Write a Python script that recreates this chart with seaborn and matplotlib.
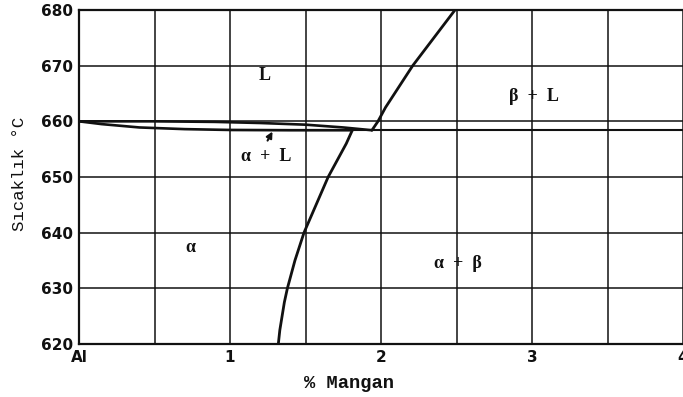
import matplotlib
matplotlib.use("Agg")
import matplotlib.pyplot as plt
import seaborn as sns
import pandas as pd

# Al-Mn phase diagram, aluminium-rich corner
# liquidus of the alpha (Al) side, Al melting point down to the eutectic
liq_alpha_mn = [0.0, 0.5, 0.9, 1.2, 1.5, 1.75, 1.94]
liq_alpha_t = [660.0, 660.0, 659.9, 659.7, 659.4, 658.9, 658.4]

# solidus of alpha
sol_alpha_mn = [0.0, 0.15, 0.4, 0.7, 1.0, 1.4, 1.81]
sol_alpha_t = [660.0, 659.5, 658.9, 658.6, 658.45, 658.4, 658.4]

# solvus alpha / alpha + beta
solvus_mn = [1.81, 1.77, 1.72, 1.65, 1.61, 1.57, 1.53, 1.49, 1.46, 1.43,
             1.405, 1.38, 1.36, 1.345, 1.33, 1.32]
solvus_t = [658.4, 656.0, 653.5, 650.0, 647.5, 645.0, 642.5, 640.0, 637.5,
            635.0, 632.5, 630.0, 627.5, 625.0, 622.5, 620.0]

# liquidus of beta
liq_beta_mn = [1.94, 1.98, 2.03, 2.09, 2.15, 2.21, 2.28, 2.35, 2.42, 2.49]
liq_beta_t = [658.4, 660.0, 662.5, 665.0, 667.5, 670.0, 672.5, 675.0, 677.5, 680.0]

# eutectic horizontal
eut_mn = [1.0, 4.0]
eut_t = [658.4, 658.4]

x_ticks = [0, 1, 2, 3, 4]
x_tick_labels = ["Al", "1", "2", "3", "4"]
y_ticks = [620, 630, 640, 650, 660, 670, 680]

region_labels = ["L", "β  +  L", "α  +  L", "α", "α  +  β"]
region_mn = [1.23, 3.01, 1.24, 0.735, 2.51]
region_t = [668.3, 664.4, 653.6, 637.4, 634.4]

sns.set_style("white")
plt.rcParams["font.family"] = ["DejaVu Sans"]

fig = plt.figure(figsize=(6.83, 3.97), dpi=100)
ax = fig.add_axes([79 / 683, 1 - 344 / 397, 1 - 79 / 683, 334 / 397])

ink = "#111111"

# grid every 0.5 % Mn and every 10 degrees
for gx in [0.5 * i for i in range(1, 9)]:
    ax.axvline(gx, color=ink, lw=1.1, zorder=1)
for gy in y_ticks:
    ax.axhline(gy, color=ink, lw=1.1, zorder=1)

curves = [
    (liq_alpha_mn, liq_alpha_t, 1.9),
    (sol_alpha_mn, sol_alpha_t, 1.9),
    (solvus_mn, solvus_t, 2.0),
    (liq_beta_mn, liq_beta_t, 2.0),
    (eut_mn, eut_t, 1.5),
]
for xs, ts, lw in curves:
    df = pd.DataFrame({"mn": xs, "t": ts})
    sns.lineplot(data=df, x="mn", y="t", sort=False, estimator=None,
                 color=ink, lw=lw, ax=ax, zorder=3)

for lab, xm, tm in zip(region_labels, region_mn, region_t):
    ax.text(xm, tm, lab, ha="center", va="center", fontsize=13,
            fontweight="bold", family="Liberation Serif", color=ink)

ax.annotate("", xy=(1.29, 658.6), xytext=(1.24, 656.1),
            arrowprops=dict(arrowstyle="-|>", color=ink, lw=1.5,
                            mutation_scale=9))

ax.set_xlim(0, 4)
ax.set_ylim(620, 680)
ax.set_xticks(x_ticks)
ax.set_xticklabels(x_tick_labels)
ax.set_yticks(y_ticks)
ax.tick_params(axis="both", length=0, pad=4, labelsize=11, colors=ink)
for t in ax.get_xticklabels() + ax.get_yticklabels():
    t.set_fontweight("bold")

for side in ["left", "bottom", "top"]:
    ax.spines[side].set_linewidth(1.6)
    ax.spines[side].set_color(ink)
ax.spines["right"].set_visible(False)

ax.set_xlabel("% Mangan", family="Liberation Mono", fontsize=13.5,
              fontweight="bold", color=ink)
ax.xaxis.set_label_coords(0.447, -0.117)
ax.xaxis.label.set_va("center")
ax.set_ylabel("Sıcaklık °C", family="Liberation Mono", fontsize=12.5,
              color=ink)
ax.yaxis.set_label_coords(-0.098, 0.51)
ax.yaxis.label.set_va("center")

fig.savefig("out.png", dpi=100)
